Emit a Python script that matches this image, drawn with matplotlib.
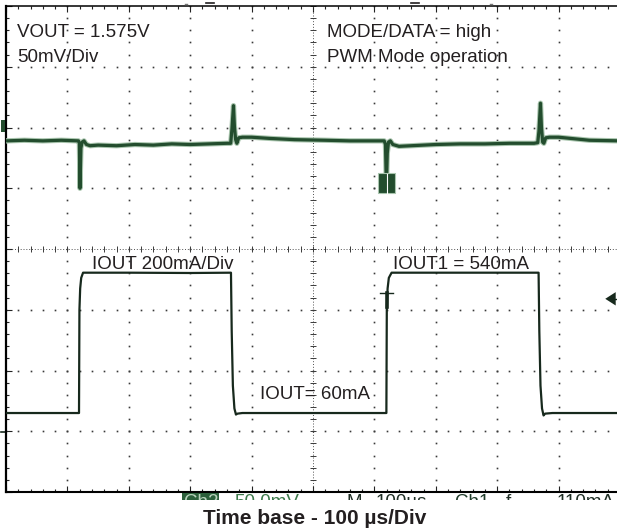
import numpy as np
import matplotlib
matplotlib.use('Agg')
import matplotlib.pyplot as plt
from matplotlib.patches import Rectangle, Polygon
from matplotlib.lines import Line2D

plt.rcParams['font.family'] = ['Liberation Sans', 'DejaVu Sans']

# scope settings
TIME_DIV = 100   # us / div
VOUT_DIV = 50    # mV / div
IOUT_DIV = 200   # mA / div
VOUT_POS = 5.78  # div, where the VOUT trace sits (AC part only)
IOUT_POS = 1.0   # div, zero of the IOUT channel

# VOUT ripple (time in us, deviation in mV)
vout_t = [0, 30, 60, 90, 118, 119.5, 120.5, 122, 124, 127, 131, 137, 150, 180,
          210, 240, 270, 300, 330, 360, 366, 368, 370.5, 372, 374, 376, 379,
          385, 400, 430, 470, 520, 560, 600, 616, 618, 619.5, 621, 623, 626,
          630, 640, 660, 700, 740, 780, 820, 860, 866, 868, 870.5, 872, 874,
          876, 879, 885, 900, 920, 950, 1000]
vout_mv = [0, 0.5, 0, 0.5, 0, -2, -39, -6, -1, 0, -3, -4, -3.5, -4,
           -3, -3.5, -2.5, -3, -2.5, -2, -2, 10, 29, 12, 1, -2, 2.5,
           3, 3, 2, 1, 0.5, 0, 0, 0, -3, -38, -10, -1, 0,
           -3, -4.5, -4, -3, -2.5, -2.5, -2, -2, -1.5, 8, 31, 12, -1,
           -2, 2.5, 3, 3, 2, 0.5, 0]

# load current steps (time in us, current in mA)
iout_t = [0, 118.9, 119.6, 120.8, 122.5, 125.5, 200, 300, 366.4, 367.6, 369.5,
          372, 374.5, 377, 385, 450, 550, 619.5, 620.2, 621.5, 623.5, 628,
          700, 800, 867.4, 868.6, 870.5, 873, 875.5, 878, 890, 1000]
iout_ma = [60, 60, 400, 470, 505, 522, 522, 521, 522, 330, 150,
           75, 55, 58, 60, 60, 60, 60, 400, 470, 505, 522,
           522, 522, 522, 330, 150, 75, 52, 58, 60, 60]

txt = '#231f20'
dark = '#17291d'
green = '#234d2e'
grid_c = '#3a3a3a'

fig = plt.figure(figsize=(6.17, 5.32), dpi=100)
ax = fig.add_axes([6/617, 40/532, 614/617, 486/532])
ax.set_xlim(0, 10)
ax.set_ylim(0, 8)

# graticule: dots every 0.2 div on the division lines
fine = np.arange(0, 10.01, 0.2)
fine_y = np.arange(0, 8.01, 0.2)
for gx in range(1, 10):
    if gx != 5:
        ax.plot([gx]*len(fine_y), fine_y, ls='none', marker='s', ms=1.2,
                color=grid_c, mew=0)
for gy in range(1, 8):
    if gy != 4:
        ax.plot(fine, [gy]*len(fine), ls='none', marker='s', ms=1.2,
                color=grid_c, mew=0)
# centre cross with ticks
ax.axhline(4, color=grid_c, lw=0.6, ls=(0, (1.2, 2.2)))
ax.axvline(5, color=grid_c, lw=0.6, ls=(0, (1.2, 2.2)))
ax.plot(fine, [4]*len(fine), ls='none', marker='|', ms=4.5, mew=0.7, color=grid_c)
ax.plot([5]*len(fine_y), fine_y, ls='none', marker='_', ms=4.5, mew=0.7, color=grid_c)

ax.set_xticks(range(0, 11))
ax.set_yticks(range(0, 9))
ax.set_xticks(fine, minor=True)
ax.set_yticks(fine_y, minor=True)
ax.tick_params(which='both', direction='in', top=True, bottom=True, left=True,
               right=False, labelbottom=False, labelleft=False, color='#222222')
ax.tick_params(which='minor', length=2.5, width=0.8)
ax.tick_params(which='major', length=4, width=0.8)
ax.spines['right'].set_visible(False)
ax.spines['left'].set_linewidth(1.6)
ax.spines['top'].set_linewidth(1.1)
ax.spines['bottom'].set_linewidth(1.5)

# traces
vx = np.array(vout_t) / TIME_DIV
vy = VOUT_POS + np.array(vout_mv) / VOUT_DIV
ax.plot(vx, vy, color='#a9c5ae', lw=3.8, zorder=3)
ax.plot(vx, vy, color=green, lw=2.3, zorder=4)
ix = np.array(iout_t) / TIME_DIV
iy = IOUT_POS + np.array(iout_ma) / IOUT_DIV
ax.plot(ix, iy, color=dark, lw=1.6, zorder=4)

# scope markers
ax.add_patch(Rectangle((6.06, 4.92), 0.28, 0.33, facecolor=green,
                       edgecolor='#a9c5ae', lw=0.8, zorder=5))
ax.plot([6.2, 6.2], [4.93, 5.24], color='white', lw=0.8, zorder=6)
ax.add_patch(Rectangle((-0.085, 5.93), 0.07, 0.19, facecolor=green,
                       edgecolor='none', clip_on=False, zorder=5))
ax.plot([-0.08, -0.01], [0.99, 0.99], color=dark, lw=1.2, clip_on=False)
ax.add_patch(Polygon([[9.76, 3.18], [9.93, 3.29], [9.93, 3.07]], closed=True,
                     facecolor=dark, edgecolor='none', zorder=5))
ax.plot([9.9, 10], [3.18, 3.18], color=dark, lw=1.0, zorder=5)
ax.plot([6.09, 6.3], [3.28, 3.28], color=dark, lw=1.0, zorder=5)
ax.plot([6.2, 6.2], [3.28, 3.05], color=dark, lw=2.6, zorder=5)

# trigger position marks above the screen
for x0, x1 in [(206, 214), (411, 419)]:
    fig.add_artist(Line2D([x0/617, x1/617], [529/532, 529/532], color=txt, lw=1.2))
for x0 in [185, 490]:
    fig.add_artist(Line2D([x0/617, (x0+1.5)/617], [528/532, 528/532], color='#777777', lw=1.0))

fs = 13.5
ax.text(0.18, 7.56, 'VOUT = 1.575V', fontsize=fs, color=txt, va='center')
ax.text(0.18, 7.15, '50mV/Div', fontsize=fs, color=txt, va='center')
ax.text(5.23, 7.56, 'MODE/DATA = high', fontsize=fs, color=txt, va='center')
ax.text(5.23, 7.15, 'PWM Mode operation', fontsize=fs, color=txt, va='center')
ax.text(1.40, 3.74, 'IOUT 200mA/Div', fontsize=fs, color=txt, va='center')
ax.text(6.30, 3.74, 'IOUT1 = 540mA', fontsize=fs, color=txt, va='center')
ax.text(4.14, 1.60, 'IOUT= 60mA', fontsize=fs, color=txt, va='center')

# readout line of the scope, cut off by the screen edge
ax_b = fig.add_axes([0, 32/532, 1, 7/532])
ax_b.set_xlim(0, 617)
ax_b.set_ylim(500, 493)
ax_b.axis('off')
ax_b.add_patch(Rectangle((182, 493), 37, 20, facecolor='#2b5f3a', edgecolor='none'))
for x0, s, c in [(184, 'Ch2', '#b9d3bd'), (234, '50.0mV', '#3d7a4b'),
                 (346, 'M', '#1e2d24'), (376, '100\u00b5s', '#1e2d24'),
                 (455, 'Ch1', '#1f3b2a'), (506, 'f', '#1e2d24'),
                 (557, '110mA', '#1e2d24')]:
    ax_b.text(x0, 507, s, fontsize=fs, color=c, va='baseline', clip_on=True)

fig.text(315/617, (532-518)/532, 'Time base - 100 \u00b5s/Div', fontsize=15,
         fontweight='bold', color=txt, ha='center', va='center')

fig.savefig('out.png', dpi=100)
